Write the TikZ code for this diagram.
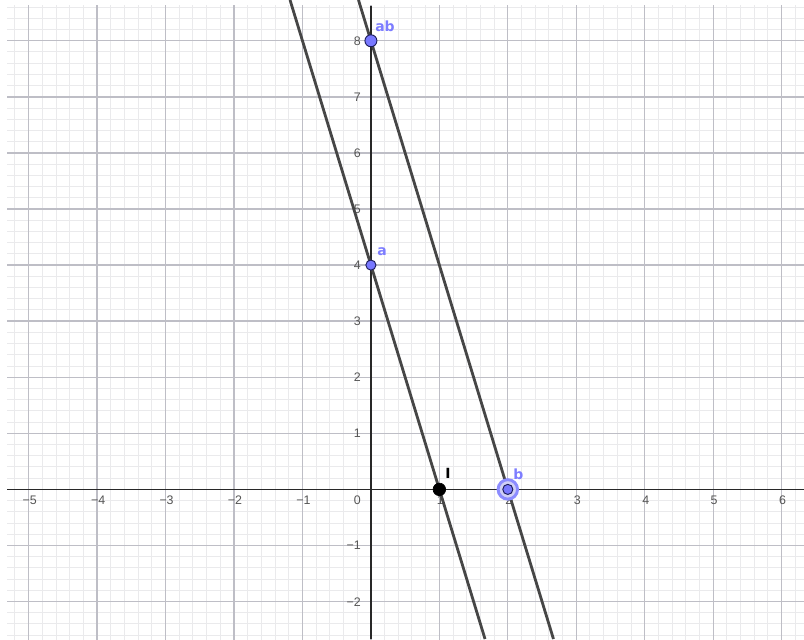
\documentclass[tikz,border=0pt]{standalone}
\usepackage{fontspec}
\setmainfont{Liberation Sans}
\newfontfamily\lblfont{DejaVu Sans}
\definecolor{minorc}{RGB}{234,234,236}
\definecolor{majorc}{RGB}{190,190,198}
\definecolor{axisc}{RGB}{40,40,40}
\definecolor{linec}{RGB}{70,70,70}
\definecolor{ptfill}{RGB}{120,120,255}
\definecolor{ptdraw}{RGB}{28,28,90}
\definecolor{lblc}{RGB}{125,125,255}
\definecolor{tickc}{RGB}{85,85,85}
\definecolor{ringc}{RGB}{140,140,255}
\definecolor{ringfill}{RGB}{208,208,245}
\tikzset{
  minorgrid/.style={draw=minorc, line width=0.75pt},
  majorgrid/.style={draw=majorc, line width=1pt},
  axisline/.style={draw=axisc, line width=1.1pt},
  graphline/.style={draw=linec, line width=2.1pt},
  ptbase/.style={circle, inner sep=0pt, fill=ptfill, draw=ptdraw, line width=0.7pt},
  ptlabel/.style={text=lblc, font=\lblfont\fontsize{10.5}{12}\selectfont\bfseries, inner sep=0pt, anchor=base west},
  xtick/.style={text=tickc, font=\fontsize{9.3}{11}\selectfont, inner sep=0pt, anchor=base},
  ytick/.style={text=tickc, font=\fontsize{9.3}{11}\selectfont, inner sep=0pt, anchor=base east},
}
\begin{document}
\begin{tikzpicture}[x=51.3375pt, y=42.06pt]
\useasboundingbox (-5.419,-2.668) rectangle (6.327,8.727);
\fill[white] (-5.419,-2.668) rectangle (6.327,8.727);
\begin{scope}
  \clip (-5.316,-2.668) rectangle (6.327,8.620);
  \draw[minorgrid] (-5.6,-3) grid[step=0.2] (6.6,9);
  \draw[majorgrid] (-6,-3) grid[step=1] (7,9);
\end{scope}
% axes
\coordinate (xl) at (-5.316,0);
\coordinate (xr) at (6.327,0);
\coordinate (yb) at (0,-2.668);
\coordinate (yt) at (0,8.620);
\draw[axisline] (xl) -- (xr);
\draw[axisline] (yb) -- (yt);
% tick labels x
\foreach \k/\t in {-5/{−5},-4/{−4},-3/{−3},-2/{−2},-1/{−1},1/1,2/2,3/3,4/4,5/5,6/6}{
  \node[xtick] (xt\k) at (\k+0.0146,-0.278) {\t};
}
% tick labels y
\foreach \k/\t in {-2/{−2},-1/{−1},1/1,2/2,3/3,4/4,5/5,6/6,7/7,8/8}{
  \node[ytick] (yt\k) at (-0.1446,\k-0.080) {\t};
}
\node[ytick] (zero) at (-0.1446,-0.278) {0};
% lines
\begin{scope}
  \clip (-5.316,-2.668) rectangle (6.327,8.727);
  \coordinate (l1t) at (-1.1818,8.727);
  \coordinate (l1b) at (1.667,-2.668);
  \coordinate (l2t) at (-0.1818,8.727);
  \coordinate (l2b) at (2.667,-2.668);
  \draw[graphline] (l1t) -- (l1b);
  \draw[graphline] (l2t) -- (l2b);
\end{scope}
% points
\node[circle, draw=ringc, fill=ringfill, line width=2.2pt, minimum size=14.6pt, inner sep=0pt] (ring) at (2,0) {};
\node[ptbase, minimum size=7.6pt] (b) at (2,0) {};
\node[ptbase, minimum size=9pt] (ab) at (0,8) {};
\node[ptbase, minimum size=7.6pt] (a) at (0,4) {};
\node[circle, inner sep=0pt, fill=black, draw=black, line width=0.5pt, minimum size=9.4pt] (I) at (1,0) {};
% labels
\node[ptlabel] (abl) at (0.0599,8.170) {ab};
\node[ptlabel] (al) at (0.0891,4.162) {a};
\node[ptlabel] (bl) at (2.076,0.185) {b};
\node[ptlabel, text=black] (Il) at (1.082,0.203) {I};
\end{tikzpicture}
\end{document}
